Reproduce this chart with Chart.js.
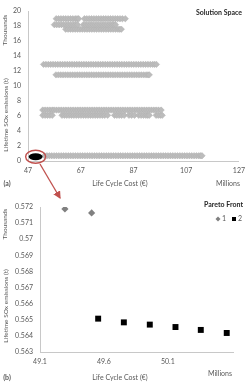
<!DOCTYPE html>
<html>
<head>
<meta charset="utf-8">
<script src="https://cdn.jsdelivr.net/npm/chart.js@4.4.0/dist/chart.umd.min.js"></script>
<style>
  body { margin: 0; background: #fff; }
  #wrap { position: relative; width: 251px; height: 391px; }
  #c1 { position: absolute; left: 0; top: 0; }
  #c2 { position: absolute; left: 0; top: 190px; }
  #arrow { position: absolute; left: 0; top: 0; }
</style>
</head>
<body>
<div id="wrap">
  <canvas id="c1" width="251" height="190"></canvas>
  <canvas id="c2" width="251" height="201"></canvas>
  <svg id="arrow" width="251" height="391">
    <defs>
      <marker id="head" markerWidth="6" markerHeight="6" refX="5" refY="3" orient="auto">
        <path d="M0,0 L6,3 L0,6 z" fill="#c0504d"></path>
      </marker>
    </defs>
    <line x1="40" y1="164" x2="60" y2="198" stroke="#c0504d" stroke-width="1.3" marker-end="url(#head)"></line>
  </svg>
</div>
<script>
// (a) solution space: SOx (thousand t) vs life cycle cost (million EUR)
const bandY = [19.0, 18.2, 17.6, 12.9, 11.5, 6.8, 6.1, 0.7];
const bandX = [
  [57.7, 58.6, 59.5, 60.4, 61.3, 62.2, 63.1, 64, 64.9, 65.6, 66.2,
   68.4, 69.3, 70.2, 71.1, 72, 72.9, 73.8, 74.7, 75.6, 76.5, 77.4, 78.3, 79.2, 80.1, 81, 81.9, 82.8, 83.9],
  [57, 57.9, 58.8, 59.7, 60.6, 61.5, 62.4, 63.3, 64.2, 65, 65.8,
   68, 68.9, 69.8, 70.7, 71.6, 72.5, 73.4, 74.3, 75.2, 76.1, 77, 77.9, 78.8, 79.5, 80.2],
  [61.3, 62.2, 63.1, 64, 64.9, 65.8, 66.7, 67.6, 68.5, 69.4, 70.3, 71.2, 72.1, 73, 73.9, 74.8, 75.7,
   76.6, 77.5, 78.4, 79.3, 80.2, 81.1, 81.8, 82.4],
  [52.9, 53.8, 54.7, 55.6, 56.5, 57.4, 58.3, 59.2, 60.1, 61, 61.9, 62.8, 63.7, 64.6, 65.5, 66.4, 67.3,
   68.2, 69.1, 70, 70.9, 71.8, 72.7, 73.6, 74.5, 75.4, 76.3, 77.2, 78.1, 79, 79.9, 80.8, 81.7, 82.6,
   83.5, 84.4, 85.3, 86.2, 87.1, 88, 88.9, 89.8, 90.7, 91.6, 92.5, 93.4, 94.3, 95, 95.7],
  [57.6, 58.5, 59.4, 60.3, 61.2, 62.1, 63, 63.9, 64.8, 65.7, 66.6, 67.5, 68.4, 69.3, 70.2, 71.1, 72,
   72.9, 73.8, 74.7, 75.6, 76.5, 77.4, 78.3, 79.2, 80.1, 81, 81.9, 82.8, 83.7, 84.6, 85.5, 86.4, 87.3,
   88.2, 89.1, 90, 90.9, 91.8, 92.5, 93],
  [52.6, 53.5, 54.4, 55.3, 56.2, 56.9, 57.8, 58.7, 59.6, 60.5, 61.4, 62.3, 63.2, 64.1, 65, 65.9, 66.8,
   67.7, 68.6, 69.5, 70.4, 71.3, 72.2, 73.1, 74, 74.9, 75.8, 76.7, 77.6, 78.5, 79.4, 80.3, 81.2, 82.1,
   83, 83.9, 84.8, 85.7, 86.6, 87.5, 88.4, 89.3, 90.2, 91.1, 92, 92.9, 93.8, 94.7, 95.6, 96.5, 97.5],
  [52.6, 53.5, 54.4, 55.3, 56.2,
   59.9, 60.8, 61.7, 62.6, 63.5, 64.4, 65.3, 66.2, 67.1, 68, 68.9, 69.8, 70.7, 71.6, 72.5, 73.4, 74.3,
   75.2, 76.1, 77.2,
   79.8, 80.7, 81.6, 82.5, 83.5,
   85.3, 86.3, 87.4,
   89, 89.9, 90.8, 91.7, 92.4, 93,
   95.6, 96.4, 97.2, 97.9],
  [53.3, 54.2, 55.1, 56, 56.9, 57.8, 58.7, 59.6, 60.5, 61.4, 62.3, 63.2, 64.1, 65, 65.9, 66.8, 67.7,
   68.6, 69.5, 70.4, 71.3, 72.2, 73.1, 74, 74.9, 75.8, 76.7, 77.6, 78.5, 79.4, 80.3, 81.2, 82.1, 83,
   83.9, 84.8, 85.7, 86.6, 87.5, 88.4, 89.3, 90.2, 91.1, 92, 92.9, 93.8, 94.7, 95.6, 96.5, 97.4, 98.3,
   99.2, 100.1, 101, 101.9, 102.8, 103.7, 104.6, 105.5, 106.4, 107.3, 108.2, 109.1, 110, 110.9,
   111.8, 112.5, 113]
];
const xTicksA = [47, 67, 87, 107, 127];
const yTicksA = [0, 2, 4, 6, 8, 10, 12, 14, 16, 18, 20];

// (b) pareto front
const front1X = [49.295, 49.504];
const front1Y = [0.57188, 0.57163];
const front2X = [49.555, 49.756, 49.959, 50.160, 50.358, 50.561];
const front2Y = [0.56507, 0.56484, 0.56470, 0.56455, 0.56437, 0.56418];
const xTicksB = [49.1, 49.6, 50.1];
const yTicksB = [0.563, 0.564, 0.565, 0.566, 0.567, 0.568, 0.569, 0.57, 0.571, 0.572];

const FONT = "Lato, 'Open Sans', sans-serif";
const TXT = "#595959";
const AXIS = "#c8c8c8";
Chart.defaults.font.family = FONT;
Chart.defaults.font.size = 7;
Chart.defaults.color = TXT;

function vText(ctx, s, x, y) {
  ctx.save();
  ctx.translate(x, y);
  ctx.rotate(-Math.PI / 2);
  ctx.fillText(s, 0, 0);
  ctx.restore();
}

function labels(list) {
  return {
    id: "labels",
    afterDraw(chart) {
      const ctx = chart.ctx;
      ctx.save();
      ctx.fillStyle = TXT;
      ctx.textBaseline = "middle";
      list(ctx, chart);
      ctx.restore();
    }
  };
}

const noGrid = { display: false, drawTicks: false };
const bandData = bandY.map((y, i) => bandX[i].map(x => ({ x: x, y: y })));
const frontAll = front1X.map((x, i) => ({ x: x, y: front1Y[i] }))
  .concat(front2X.map((x, i) => ({ x: x, y: front2Y[i] })));

new Chart(document.getElementById("c1"), {
  type: "scatter",
  data: {
    datasets: bandData.map(d => ({
      data: d,
      pointStyle: "rectRot",
      pointRadius: 3.2,
      backgroundColor: "#bcbcbc",
      borderColor: "#b0b0b0",
      borderWidth: 0.5
    }))
  },
  options: {
    responsive: false,
    animation: false,
    layout: { padding: { top: 5, right: 6, left: 0, bottom: 0 } },
    plugins: { legend: { display: false }, tooltip: { enabled: false } },
    scales: {
      x: {
        type: "linear", min: 47, max: 127,
        grid: noGrid,
        border: { display: true, color: AXIS },
        afterBuildTicks: s => { s.ticks = xTicksA.map(v => ({ value: v })); },
        afterFit: s => { s.height = 29; },
        ticks: { padding: 6, maxRotation: 0 }
      },
      y: {
        type: "linear", min: 0, max: 20,
        grid: noGrid,
        border: { display: true, color: AXIS },
        afterBuildTicks: s => { s.ticks = yTicksA.map(v => ({ value: v })); },
        afterFit: s => { s.width = 28; },
        ticks: { padding: 7 }
      }
    }
  },
  plugins: [labels((ctx, chart) => {
    const xs = chart.scales.x, ys = chart.scales.y;
    // highlighted pareto front region
    const fx = frontAll.reduce((a, p) => a + p.x, 0) / frontAll.length;
    const fy = frontAll.reduce((a, p) => a + p.y, 0) / frontAll.length;
    const cx = xs.getPixelForValue(fx), cy = ys.getPixelForValue(fy);
    ctx.fillStyle = "#000";
    ctx.beginPath();
    ctx.ellipse(cx, cy, 7, 3.5, 0, 0, Math.PI * 2);
    ctx.fill();
    ctx.strokeStyle = "#c0504d";
    ctx.lineWidth = 1.4;
    ctx.beginPath();
    ctx.ellipse(cx, cy, 10, 6.5, 0, 0, Math.PI * 2);
    ctx.stroke();

    ctx.fillStyle = TXT;
    ctx.textAlign = "center";
    ctx.font = "6.5px " + FONT;
    vText(ctx, "Thousands", 5, 30);
    vText(ctx, "Lifetime SOx emissions (t)", 6, 115);
    ctx.font = "7px " + FONT;
    ctx.fillText("Life Cycle Cost (\u20ac)", 120, 184);
    ctx.fillText("Millions", 228, 184);
    ctx.font = "bold 7px " + FONT;
    ctx.fillText("(a)", 7, 184);
    ctx.fillStyle = "#262626";
    ctx.textAlign = "right";
    ctx.fillText("Solution Space", 242, 13);
  })]
});

new Chart(document.getElementById("c2"), {
  type: "scatter",
  data: {
    datasets: [
      {
        label: "1",
        data: front1X.map((x, i) => ({ x: x, y: front1Y[i] })),
        pointStyle: "rectRot", pointRadius: 3.6,
        backgroundColor: "#808080", borderColor: "#808080", borderWidth: 0
      },
      {
        label: "2",
        data: front2X.map((x, i) => ({ x: x, y: front2Y[i] })),
        pointStyle: "rect", pointRadius: 4.2,
        backgroundColor: "#000", borderColor: "#000", borderWidth: 0
      }
    ]
  },
  options: {
    responsive: false,
    animation: false,
    layout: { padding: { top: 17, right: 18, left: 0, bottom: 0 } },
    plugins: { legend: { display: false }, tooltip: { enabled: false } },
    scales: {
      x: {
        type: "linear", min: 49.1, max: 50.61,
        grid: noGrid,
        border: { display: true, color: AXIS },
        afterBuildTicks: s => { s.ticks = xTicksB.map(v => ({ value: v })); },
        afterFit: s => { s.height = 39; },
        ticks: { padding: 6, maxRotation: 0, callback: v => String(v) }
      },
      y: {
        type: "linear", min: 0.563, max: 0.572,
        grid: noGrid,
        border: { display: true, color: AXIS },
        afterBuildTicks: s => { s.ticks = yTicksB.map(v => ({ value: v })); },
        afterFit: s => { s.width = 40; },
        ticks: { padding: 7, callback: v => String(Number(v.toFixed(3))) }
      }
    }
  },
  plugins: [labels((ctx, chart) => {
    ctx.textAlign = "center";
    ctx.font = "6.5px " + FONT;
    vText(ctx, "Thousands", 5, 34);
    vText(ctx, "Lifetime SOx emissions (t)", 6, 116);
    ctx.font = "7px " + FONT;
    ctx.fillText("Life Cycle Cost (\u20ac)", 120, 188);
    ctx.fillText("Millions", 220, 184);
    ctx.font = "bold 7px " + FONT;
    ctx.fillText("(b)", 7, 188);
    ctx.fillStyle = "#262626";
    ctx.textAlign = "right";
    ctx.fillText("Pareto Front", 243, 15);
    // legend
    const ds = chart.data.datasets;
    ctx.fillStyle = ds[0].backgroundColor;
    ctx.beginPath();
    ctx.moveTo(218, 26.5); ctx.lineTo(220.5, 29); ctx.lineTo(218, 31.5); ctx.lineTo(215.5, 29);
    ctx.closePath(); ctx.fill();
    ctx.fillStyle = ds[1].backgroundColor;
    ctx.fillRect(232, 27, 4, 4);
    ctx.fillStyle = TXT;
    ctx.font = "7px " + FONT;
    ctx.textAlign = "left";
    ctx.fillText(ds[0].label, 222, 29);
    ctx.fillText(ds[1].label, 238, 29);
  })]
});
</script>
</body>
</html>
